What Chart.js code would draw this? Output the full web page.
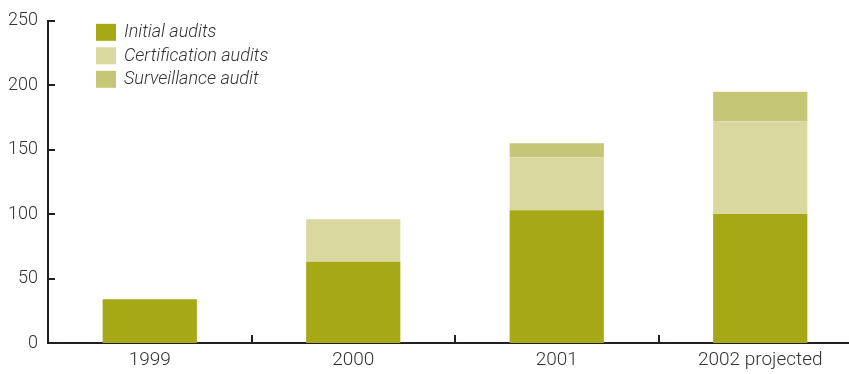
<!DOCTYPE html>
<html>
<head>
<meta charset="utf-8">
<script src="https://cdn.jsdelivr.net/npm/chart.js@4"></script>
<style>
  html, body { margin: 0; padding: 0; background: #fff; overflow: hidden; }
  #wrap { width: 862px; height: 374px; }
</style>
</head>
<body>
<div id="wrap"><canvas id="audits"></canvas></div>
<script>
// audit counts per year
var years = ['1999', '2000', '2001', '2002 projected'];
var initialAudits = [34, 63, 103, 100];
var certificationAudits = [0, 33, 41, 72];
var surveillanceAudits = [0, 0, 11, 23];
var yTicks = [0, 50, 100, 150, 200, 250];

var axisColor = '#231f20';
var textColor = '#333333';
var fontFamily = 'Roboto, "Open Sans", sans-serif';

// inward tick marks on both axes + the boxed legend in the top left
var axisMarks = {
  id: 'axisMarks',
  afterDraw: function(chart) {
    var ctx = chart.ctx;
    var area = chart.chartArea;
    var x = chart.scales.x;
    var y = chart.scales.y;
    ctx.save();
    ctx.strokeStyle = axisColor;
    ctx.lineWidth = 2;
    ctx.beginPath();
    yTicks.forEach(function(v) {
      if (v === 0) return;
      var py = Math.round(y.getPixelForValue(v));
      ctx.moveTo(area.left, py);
      ctx.lineTo(area.left + 7, py);
    });
    for (var i = 1; i < years.length; i++) {
      var px = Math.round((x.getPixelForValue(i - 1) + x.getPixelForValue(i)) / 2);
      ctx.moveTo(px, area.bottom);
      ctx.lineTo(px, area.bottom - 8);
    }
    ctx.stroke();

    // legend
    ctx.font = 'italic 300 18px ' + fontFamily;
    ctx.textBaseline = 'middle';
    chart.data.datasets.forEach(function(ds, i) {
      var top = area.top + 3 + i * 23.5;
      ctx.fillStyle = ds.backgroundColor;
      ctx.fillRect(area.left + 48, top, 20, 17);
      ctx.fillStyle = textColor;
      ctx.fillText(ds.label, area.left + 76, top + 9);
    });
    ctx.restore();
  }
};

new Chart(document.getElementById('audits'), {
  type: 'bar',
  data: {
    labels: years,
    datasets: [
      { label: 'Initial audits', data: initialAudits, backgroundColor: '#a6a816' },
      { label: 'Certification audits', data: certificationAudits, backgroundColor: '#d9d99f' },
      { label: 'Surveillance audit', data: surveillanceAudits, backgroundColor: '#c5c776' }
    ]
  },
  options: {
    responsive: true,
    maintainAspectRatio: false,
    animation: false,
    layout: { padding: { left: 7, top: 20, right: 0, bottom: 2 } },
    datasets: {
      bar: { barPercentage: 0.463, categoryPercentage: 1, borderWidth: 0 }
    },
    plugins: {
      legend: { display: false },
      tooltip: { enabled: false }
    },
    scales: {
      x: {
        stacked: true,
        afterFit: function(scale) { scale.height = 29; },
        grid: { display: false, drawTicks: false },
        border: { color: axisColor, width: 2 },
        ticks: { color: textColor, padding: 6, font: { family: fontFamily, size: 19, weight: '300' } }
      },
      y: {
        stacked: true,
        min: 0,
        max: 250,
        afterBuildTicks: function(scale) {
          scale.ticks = yTicks.map(function(v) { return { value: v }; });
        },
        afterFit: function(scale) { scale.width = 41; },
        grid: { display: false, drawTicks: false },
        border: { color: axisColor, width: 2 },
        ticks: { color: textColor, padding: 10, font: { family: fontFamily, size: 18, weight: '300' } }
      }
    }
  },
  plugins: [axisMarks]
});
</script>
</body>
</html>
